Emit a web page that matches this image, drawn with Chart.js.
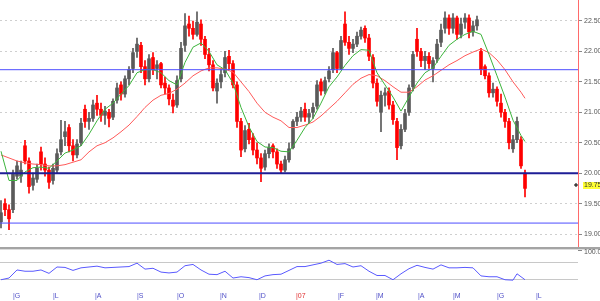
<!DOCTYPE html>
<html>
<head>
<meta charset="utf-8">
<script src="https://cdn.jsdelivr.net/npm/chart.js@4.4.1/dist/chart.umd.min.js"></script>
<style>
  html, body { margin: 0; padding: 0; background: #fff; }
  #wrap { position: relative; width: 600px; height: 301px; overflow: hidden; }
  canvas { position: absolute; left: 0; }
  #price { top: 0; }
  #rsi { top: 240px; }
  #sep { position: absolute; left: 0; top: 247px; width: 600px; height: 2px; background: #a4a4a4; border-bottom: 1px solid #dcdcdc; }
</style>
</head>
<body>
<div id="wrap">
  <canvas id="price" width="600" height="247"></canvas>
  <div id="sep"></div>
  <canvas id="rsi" width="600" height="61"></canvas>
</div>
<script>
// daily candles
const opens = [
  19.20, 19.50, 19.40, 19.40, 19.95, 19.95, 20.45, 20.20, 19.80, 19.90,
  20.35, 20.15, 20.05, 19.88, 20.05, 20.35, 20.60, 20.75, 20.45, 20.30,
  20.50, 21.05, 20.85, 20.90, 21.15, 21.05, 20.95, 21.00, 20.92, 21.20,
  21.45, 21.30, 21.55, 21.72, 22.00, 22.10, 21.75, 21.55, 21.90, 21.72,
  21.80, 21.48, 21.40, 21.20, 21.12, 21.55, 22.10, 22.45, 22.38, 22.28,
  22.45, 22.20, 21.95, 21.78, 21.35, 21.50, 21.65, 21.92, 21.80, 21.45,
  20.85, 20.40, 20.72, 20.58, 20.38, 20.25, 20.10, 20.32, 20.45, 20.35,
  20.15, 20.05, 20.22, 20.42, 20.85, 20.92, 21.05, 20.92, 21.00, 21.10,
  21.50, 21.35, 21.55, 21.70, 21.98, 21.72, 22.45, 22.15, 22.05, 22.12,
  22.25, 22.38, 22.22, 21.90, 21.48, 21.00, 21.28, 21.35, 21.12, 20.85,
  20.45, 20.72, 21.00, 21.42, 22.20, 22.00, 21.85, 21.92, 21.72, 21.88,
  22.15, 22.38, 22.55, 22.38, 22.55, 22.28, 22.48, 22.55, 22.32, 22.42,
  22.00, 21.75, 21.60, 21.32, 21.38, 21.15, 21.00, 20.85, 20.40, 20.55,
  20.55, 20.00
];
const highs = [
  19.55, 19.58, 19.48, 20.05, 20.20, 20.20, 20.54, 20.25, 20.00, 20.15,
  20.43, 20.25, 20.10, 20.15, 20.40, 20.87, 20.85, 20.80, 20.55, 20.55,
  20.90, 21.12, 21.00, 21.20, 21.28, 21.15, 21.10, 21.05, 21.22, 21.48,
  21.50, 21.60, 21.75, 22.05, 22.22, 22.15, 21.85, 21.95, 21.98, 21.85,
  21.82, 21.58, 21.45, 21.30, 21.60, 22.15, 22.62, 22.58, 22.50, 22.65,
  22.52, 22.25, 22.05, 21.85, 21.55, 21.70, 22.00, 22.02, 21.85, 21.50,
  20.90, 20.78, 20.82, 20.65, 20.50, 20.32, 20.38, 20.48, 20.48, 20.40,
  20.20, 20.28, 20.50, 20.88, 21.00, 21.08, 21.15, 21.05, 21.15, 21.52,
  21.55, 21.58, 21.75, 22.05, 22.00, 22.25, 22.65, 22.25, 22.20, 22.32,
  22.40, 22.42, 22.28, 21.95, 21.55, 21.35, 21.40, 21.40, 21.18, 20.90,
  20.80, 21.05, 21.45, 22.00, 22.38, 22.05, 22.00, 21.98, 21.90, 22.20,
  22.45, 22.65, 22.60, 22.62, 22.58, 22.55, 22.62, 22.60, 22.50, 22.58,
  22.05, 21.78, 21.65, 21.48, 21.42, 21.30, 21.05, 20.90, 20.62, 20.92,
  20.60, 20.05
];
const lows = [
  19.10, 19.30, 19.07, 19.35, 19.90, 19.85, 20.15, 19.67, 19.72, 19.85,
  20.05, 19.95, 19.75, 19.82, 20.00, 20.30, 20.45, 20.35, 20.20, 20.25,
  20.45, 20.75, 20.72, 20.85, 20.95, 20.85, 20.80, 20.76, 20.88, 21.15,
  21.20, 21.25, 21.45, 21.65, 21.90, 21.65, 21.45, 21.50, 21.62, 21.55,
  21.40, 21.30, 21.12, 20.99, 21.08, 21.50, 22.00, 22.25, 22.20, 22.25,
  22.10, 21.88, 21.68, 21.35, 21.15, 21.40, 21.58, 21.70, 21.40, 20.75,
  20.27, 20.35, 20.48, 20.30, 20.15, 19.86, 20.05, 20.25, 20.25, 20.08,
  20.00, 20.02, 20.18, 20.40, 20.78, 20.85, 20.85, 20.82, 20.90, 21.05,
  21.28, 21.30, 21.50, 21.65, 21.65, 21.70, 22.10, 21.95, 21.98, 22.08,
  22.20, 22.15, 21.85, 21.40, 21.10, 20.68, 21.10, 21.05, 20.80, 20.22,
  20.40, 20.68, 20.95, 21.35, 21.92, 21.75, 21.70, 21.72, 21.50, 21.82,
  22.08, 22.30, 22.28, 22.30, 22.20, 22.22, 22.38, 22.22, 22.25, 22.35,
  21.62, 21.55, 21.25, 21.25, 21.10, 20.92, 20.75, 20.40, 20.34, 20.50,
  20.08, 19.61
];
const closes = [
  19.35, 19.40, 19.25, 19.98, 20.12, 20.05, 20.20, 19.78, 19.92, 20.08,
  20.15, 20.05, 19.85, 20.08, 20.32, 20.55, 20.68, 20.45, 20.30, 20.48,
  20.82, 20.85, 20.90, 21.12, 21.05, 20.95, 21.02, 20.90, 21.18, 21.40,
  21.30, 21.55, 21.70, 21.98, 22.12, 21.75, 21.55, 21.88, 21.70, 21.78,
  21.45, 21.40, 21.22, 21.10, 21.52, 22.05, 22.42, 22.38, 22.28, 22.48,
  22.20, 21.95, 21.78, 21.40, 21.48, 21.62, 21.90, 21.80, 21.45, 20.85,
  20.38, 20.70, 20.55, 20.38, 20.25, 20.08, 20.32, 20.42, 20.35, 20.15,
  20.05, 20.22, 20.40, 20.85, 20.92, 21.02, 20.92, 20.98, 21.08, 21.45,
  21.35, 21.52, 21.68, 21.98, 21.72, 22.18, 22.15, 22.05, 22.12, 22.25,
  22.35, 22.22, 21.92, 21.48, 21.18, 21.28, 21.32, 21.12, 20.88, 20.42,
  20.72, 20.98, 21.40, 21.95, 22.00, 21.85, 21.92, 21.80, 21.85, 22.12,
  22.35, 22.55, 22.38, 22.55, 22.28, 22.45, 22.55, 22.32, 22.42, 22.52,
  21.70, 21.60, 21.32, 21.38, 21.18, 21.00, 20.85, 20.50, 20.55, 20.85,
  20.12, 19.75
];

// moving averages, sampled every second candle
const maFast = [
  20.36, 19.88, 19.88, 20.02, 20.09, 20.10, 20.08, 20.20, 20.33, 20.38,
  20.45, 20.64, 20.86, 21.05, 21.15, 21.30, 21.44, 21.65, 21.70, 21.70,
  21.65, 21.52, 21.45, 21.82, 22.07, 22.14, 22.00, 21.78, 21.70, 21.48,
  21.08, 20.76, 20.52, 20.43, 20.42, 20.36, 20.35, 20.54, 20.75, 20.90,
  21.15, 21.42, 21.58, 21.77, 21.93, 22.03, 22.02, 21.65, 21.45, 21.25,
  21.02, 21.25, 21.48, 21.65, 21.73, 21.92, 22.10, 22.20, 22.28, 22.33,
  22.28, 21.95, 21.60, 21.25, 20.87, 20.62, 20.52
];
const maSlow = [
  20.30, 20.25, 20.20, 20.17, 20.15, 20.14, 20.12, 20.12, 20.14, 20.18,
  20.22, 20.35, 20.45, 20.50, 20.58, 20.68, 20.79, 20.93, 21.08, 21.20,
  21.28, 21.31, 21.38, 21.48, 21.60, 21.68, 21.73, 21.73, 21.71, 21.66,
  21.50, 21.34, 21.15, 21.00, 20.92, 20.86, 20.75, 20.75, 20.79, 20.84,
  20.94, 21.06, 21.18, 21.32, 21.46, 21.56, 21.62, 21.60, 21.52, 21.42,
  21.33, 21.33, 21.42, 21.53, 21.60, 21.69, 21.78, 21.85, 21.93, 21.99,
  22.04, 21.98, 21.86, 21.70, 21.50, 21.33, 21.23
];
const maIdx = [];
for (let i = 0; i <= 130; i += 2) maIdx.push(i);
maIdx.push(131);

// lower panel oscillator
const rsiVals = [
  30, 34, 53, 50, 50, 53, 45, 60, 59, 52,
  58, 60, 62, 58, 59, 60, 61, 69, 55, 57,
  48, 46, 48, 63, 66, 53, 43, 42, 50, 34,
  37, 35, 30, 39, 42, 43, 52, 61, 61, 65,
  69, 76, 66, 68, 60, 63, 50, 40, 40, 30,
  44, 56, 64, 59, 55, 65, 58, 58, 59, 58,
  39, 37, 37, 30, 29, 44, 37, 30
];
const rsiIdx = [];
for (let i = 0; i <= 126; i += 2) rsiIdx.push(i);
rsiIdx.push(128, 129, 130, 131);

const levels = [21.70, 20.00, 19.18];
const levelColors = ['#4d4dff', '#1e1e96', '#4d4dff'];
const levelWidths = [1, 2, 1];
const priceTicks = [19.0, 19.5, 20.0, 20.5, 21.0, 21.5, 22.0, 22.5];
const monthPos = [3, 13, 23.5, 34, 44, 54.75, 64.5, 73.75, 84.25, 93.75, 104.25, 113, 124, 133.75];
const monthLabels = ['G', 'L', 'A', 'S', 'O', 'N', 'D', '07', 'F', 'M', 'A', 'M', 'G', 'L'];

const X_MIN = -0.25, X_MAX = 144.25;
const FONT = "'Liberation Sans', Arial, sans-serif";

const candleColor = closes.map((c, i) => c >= opens[i] ? '#5a5a5a' : '#ff0000');

// no extra room for end labels: the plot fills the canvas
function tightFit(s, w) {
  s.width = w;
  s.paddingTop = 0;
  s.paddingBottom = 0;
}

const lastPrice = {
  id: 'lastPrice',
  afterDraw(chart) {
    const { ctx, chartArea, scales: { y } } = chart;
    const v = closes[closes.length - 1];
    const py = Math.round(y.getPixelForValue(v)) - 3;
    ctx.save();
    ctx.fillStyle = '#ffff33';
    ctx.fillRect(chartArea.right + 5, py - 3, 17, 7);
    ctx.fillStyle = '#333';
    ctx.font = '7px ' + FONT;
    ctx.textBaseline = 'middle';
    ctx.fillText(v.toFixed(2), chartArea.right + 6, py + 0.5);
    ctx.fillStyle = '#000';
    ctx.fillRect(chartArea.right - 4, py - 0.5, 4, 1);
    ctx.fillRect(chartArea.right - 2.5, py - 2, 1, 4);
    ctx.restore();
  }
};

const monthTicks = {
  id: 'monthTicks',
  afterDraw(chart) {
    const { ctx, chartArea, scales: { x } } = chart;
    ctx.save();
    ctx.font = '7px ' + FONT;
    ctx.textBaseline = 'middle';
    ctx.textAlign = 'left';
    monthPos.forEach((p, i) => {
      ctx.fillStyle = monthLabels[i] === '07' ? '#e03030' : '#5050c8';
      ctx.fillText('|' + monthLabels[i], Math.round(x.getPixelForValue(p)), chartArea.bottom + 7);
    });
    ctx.restore();
  }
};

new Chart(document.getElementById('price'), {
  type: 'bar',
  data: {
    datasets: [
      {
        data: highs.map((h, i) => ({ x: i, y: [lows[i], h] })),
        backgroundColor: candleColor,
        barThickness: 1, grouped: false, order: 5
      },
      {
        data: opens.map((o, i) => ({ x: i, y: [Math.min(o, closes[i]), Math.max(o, closes[i])] })),
        backgroundColor: candleColor,
        barThickness: 3, minBarLength: 1, grouped: false, order: 4
      },
      {
        type: 'line', data: maIdx.map((x, k) => ({ x, y: maSlow[k] })),
        borderColor: '#ff5a5a', borderWidth: 1, pointRadius: 0, order: 3
      },
      {
        type: 'line', data: maIdx.map((x, k) => ({ x, y: maFast[k] })),
        borderColor: '#3cb43c', borderWidth: 1, pointRadius: 0, order: 2
      },
      ...levels.map((v, k) => ({
        type: 'line', data: [{ x: X_MIN, y: v }, { x: X_MAX, y: v }],
        borderColor: levelColors[k], borderWidth: levelWidths[k], pointRadius: 0, order: 1
      }))
    ]
  },
  options: {
    responsive: false,
    animation: false,
    layout: { padding: 0 },
    plugins: { legend: { display: false }, tooltip: { enabled: false } },
    scales: {
      x: { type: 'linear', min: X_MIN, max: X_MAX, display: false, offset: false },
      y: {
        position: 'right', min: 18.787, max: 22.845,
        afterFit: s => tightFit(s, 22),
        afterBuildTicks: s => { s.ticks = priceTicks.map(v => ({ value: v })); },
        grid: { color: '#cfcfcf', tickColor: '#888', tickLength: 4 },
        border: { color: '#ff6a6a', width: 1, dash: [2, 3] },
        ticks: { padding: 2, color: '#555', font: { family: FONT, size: 7 }, callback: v => v.toFixed(2) }
      }
    }
  },
  plugins: [lastPrice]
});

new Chart(document.getElementById('rsi'), {
  type: 'line',
  data: {
    datasets: [{
      data: rsiIdx.map((x, k) => ({ x, y: rsiVals[k] })),
      borderColor: '#5a5aff', borderWidth: 1, pointRadius: 0
    }]
  },
  options: {
    responsive: false,
    animation: false,
    layout: { padding: { top: 10, bottom: 12 } },
    plugins: { legend: { display: false }, tooltip: { enabled: false } },
    scales: {
      x: { type: 'linear', min: X_MIN, max: X_MAX, display: false, offset: false },
      y: {
        position: 'right', min: 8.2, max: 100,
        afterFit: s => tightFit(s, 22),
        afterBuildTicks: s => { s.ticks = [30, 70, 100].map(v => ({ value: v })); },
        grid: {
          color: c => (c.tick && c.tick.value === 100) ? 'rgba(0,0,0,0)' : '#c8c8c8',
          tickColor: c => (c.tick && c.tick.value === 100) ? '#888' : 'rgba(0,0,0,0)',
          tickLength: 4
        },
        border: { display: false },
        ticks: {
          padding: 2, labelOffset: 2, color: '#555', font: { family: FONT, size: 7 },
          callback: v => v === 100 ? '100.00' : ''
        }
      }
    }
  },
  plugins: [monthTicks]
});
</script>
</body>
</html>
